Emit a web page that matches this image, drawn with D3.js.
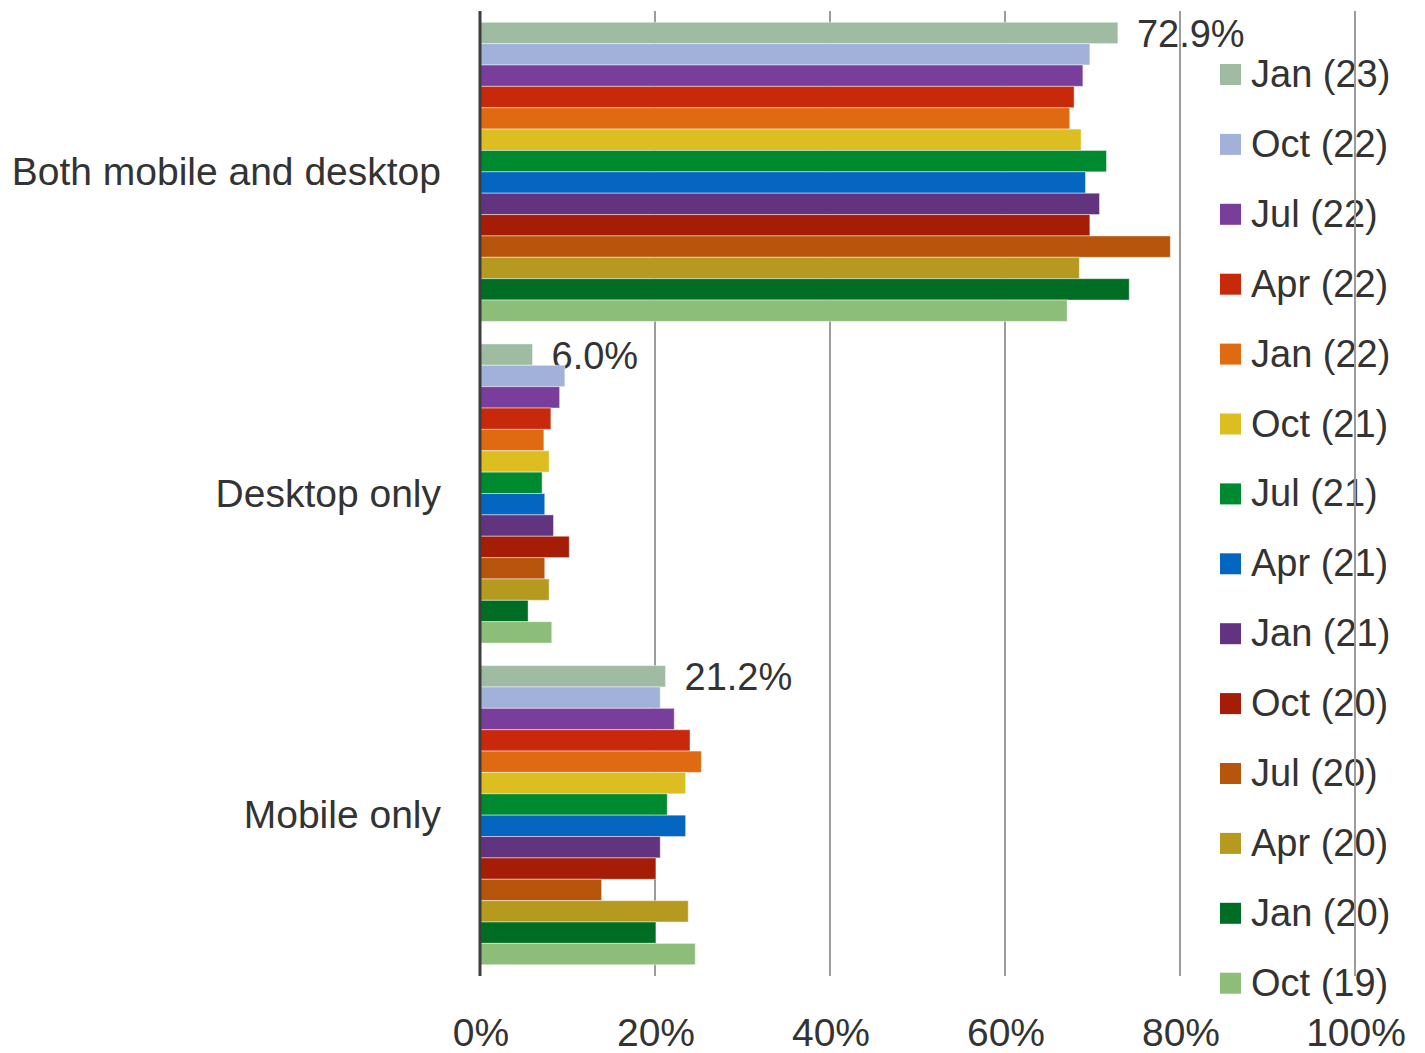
<!DOCTYPE html>
<html>
<head>
<meta charset="utf-8">
<script src="https://cdn.jsdelivr.net/npm/d3@7"></script>
<style>
  html, body { margin: 0; padding: 0; background: #fff; }
  svg { display: block; }
  text { font-family: "Liberation Sans", Arial, sans-serif; fill: #333; }
</style>
</head>
<body>
<svg id="chart" width="1425" height="1053"></svg>
<script>
const categories = ["Both mobile and desktop", "Desktop only", "Mobile only"];
const seriesNames = ["Jan (23)", "Oct (22)", "Jul (22)", "Apr (22)", "Jan (22)", "Oct (21)", "Jul (21)",
                     "Apr (21)", "Jan (21)", "Oct (20)", "Jul (20)", "Apr (20)", "Jan (20)", "Oct (19)"];
const seriesColors = ["#9fbca2", "#a1b1da", "#793e9b", "#c9290b", "#df6a11", "#dcbd22", "#008a2f",
                      "#0566c2", "#62337f", "#a51d07", "#b6550b", "#b69a1f", "#006d24", "#8cbd79"];
// values per series, in category order [Both, Desktop only, Mobile only]
const valuesBoth    = [72.9, 69.7, 68.9, 67.9, 67.4, 68.7, 71.6, 69.2, 70.8, 69.7, 78.9, 68.5, 74.2, 67.1];
const valuesDesktop = [6.0, 9.7, 9.1, 8.1, 7.3, 7.9, 7.1, 7.4, 8.4, 10.2, 7.4, 7.9, 5.5, 8.2];
const valuesMobile  = [21.2, 20.6, 22.2, 24.0, 25.3, 23.5, 21.4, 23.5, 20.6, 20.1, 13.9, 23.8, 20.1, 24.6];
const tickValues = [0, 20, 40, 60, 80, 100];
const tickLabels = ["0%", "20%", "40%", "60%", "80%", "100%"];
const labelTexts = ["72.9%", "6.0%", "21.2%"];

const valuesByCategory = [valuesBoth, valuesDesktop, valuesMobile];

const svg = d3.select("#chart");
const x = d3.scaleLinear().domain([0, 100]).range([480, 1355]);
const y0 = d3.scaleBand().domain(categories).range([11, 976]).paddingInner(0.07).paddingOuter(0.035);
const y1 = d3.scaleBand().domain(seriesNames).range([0, y0.bandwidth()]).padding(0);
const color = d3.scaleOrdinal().domain(seriesNames).range(seriesColors);

// Category labels
svg.append("g").selectAll("text").data(categories).join("text")
  .attr("x", 441)
  .attr("y", d => y0(d) + y0.bandwidth() / 2 + 13)
  .attr("text-anchor", "end")
  .style("font-size", "39px")
  .text(d => d);

// X tick labels
svg.append("g").selectAll("text").data(tickValues).join("text")
  .attr("x", d => x(d) + 1)
  .attr("y", 1046)
  .attr("text-anchor", "middle")
  .style("font-size", "39px")
  .text((d, i) => tickLabels[i]);

// Legend
const legend = svg.append("g");
const legendItems = legend.selectAll("g").data(seriesNames).join("g")
  .attr("transform", (d, i) => `translate(1220, ${87 + i * 69.9})`);
legendItems.append("rect")
  .attr("x", 0).attr("y", -23).attr("width", 21).attr("height", 21)
  .attr("fill", d => color(d));
legendItems.append("text")
  .attr("x", 31).attr("y", 0)
  .style("font-size", "38px")
  .text(d => d);

// Data labels for first series
svg.append("g").selectAll("text").data(categories).join("text")
  .attr("x", (d, i) => x(valuesByCategory[i][0]) + 19)
  .attr("y", d => y0(d) + y1(seriesNames[0]) + y1.bandwidth() / 2 + 14)
  .style("font-size", "38px")
  .text((d, i) => labelTexts[i]);

// Gridlines
svg.append("g").selectAll("line").data(tickValues.slice(1)).join("line")
  .attr("x1", d => x(d)).attr("x2", d => x(d))
  .attr("y1", 11).attr("y2", 976)
  .attr("stroke", "#9c9c9c").attr("stroke-width", 2);

// Bars
const groups = svg.append("g").selectAll("g").data(categories).join("g")
  .attr("transform", d => `translate(0, ${y0(d)})`);
groups.selectAll("rect")
  .data((d, ci) => seriesNames.map((s, si) => ({ s, v: valuesByCategory[ci][si] })))
  .join("rect")
  .attr("x", x(0))
  .attr("y", d => y1(d.s))
  .attr("width", d => x(d.v) - x(0))
  .attr("height", y1.bandwidth())
  .attr("fill", d => color(d.s))
  .attr("stroke", "rgba(255,255,255,0.45)")
  .attr("stroke-width", 1);

// Axis line
svg.append("line")
  .attr("x1", x(0)).attr("x2", x(0))
  .attr("y1", 11).attr("y2", 976)
  .attr("stroke", "#3d3d3d").attr("stroke-width", 3);
</script>
</body>
</html>
